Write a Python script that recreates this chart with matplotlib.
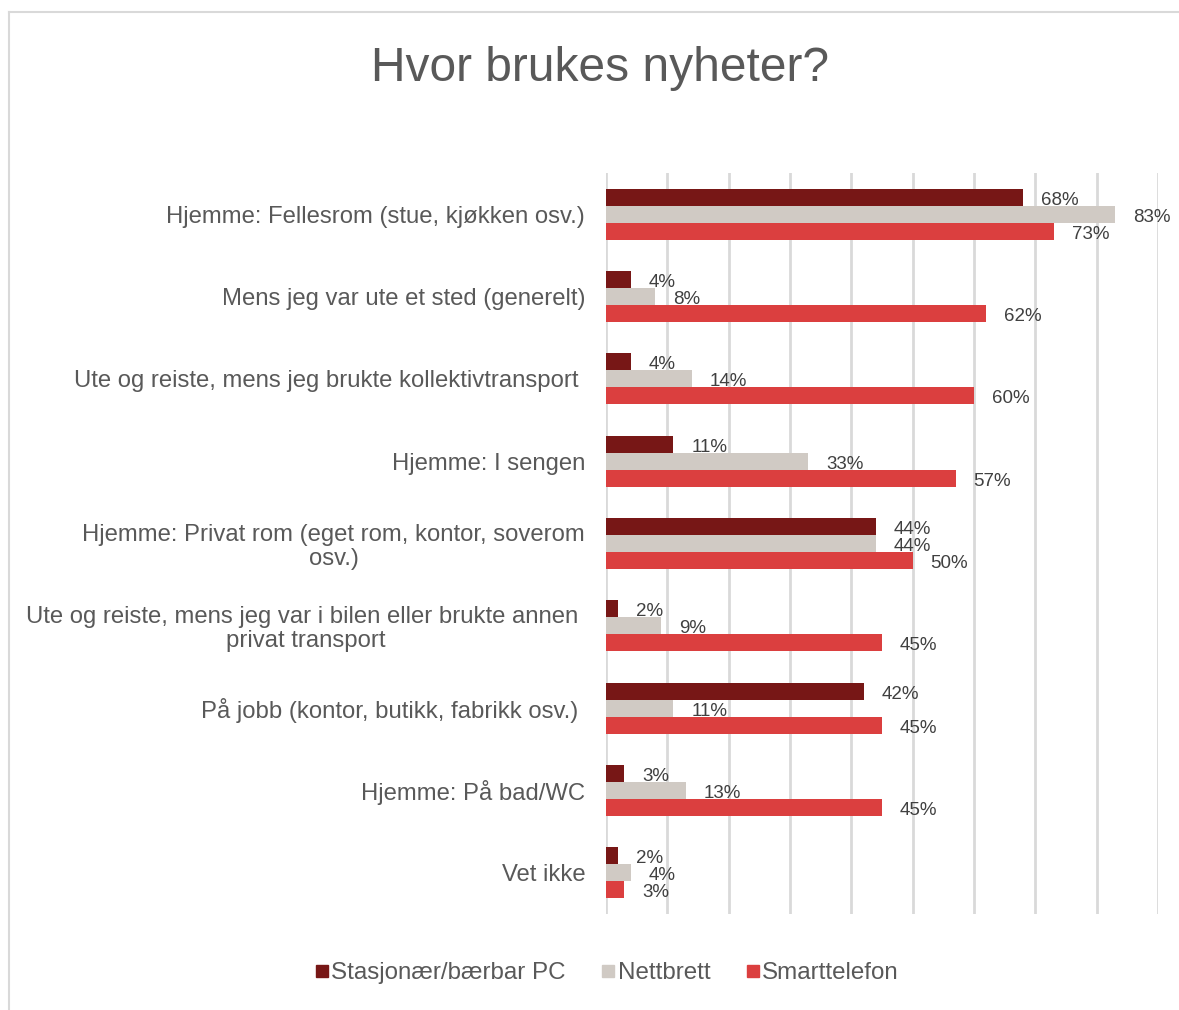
import matplotlib
matplotlib.use("Agg")
import matplotlib.pyplot as plt
import numpy as np
from matplotlib.lines import Line2D

categories = [
    "Hjemme: Fellesrom (stue, kjøkken osv.)",
    "Mens jeg var ute et sted (generelt)",
    "Ute og reiste, mens jeg brukte kollektivtransport ",
    "Hjemme: I sengen",
    "Hjemme: Privat rom (eget rom, kontor, soverom\nosv.)",
    "Ute og reiste, mens jeg var i bilen eller brukte annen \nprivat transport",
    "På jobb (kontor, butikk, fabrikk osv.) ",
    "Hjemme: På bad/WC",
    "Vet ikke",
]
series_names = ["Stasjonær/bærbar PC", "Nettbrett", "Smarttelefon"]
pc = [68, 4, 4, 11, 44, 2, 42, 3, 2]
tablet = [83, 8, 14, 33, 44, 9, 11, 13, 4]
phone = [73, 62, 60, 57, 50, 45, 45, 45, 3]
colors = ["#771716", "#d0cac4", "#db3f3f"]

plt.rcParams['font.family'] = ['Liberation Sans', 'DejaVu Sans']
text_color = "#595959"

fig = plt.figure(figsize=(11.79, 10.10), dpi=100)
ax = fig.add_axes([606/1179, 1-914/1010, (1158-606)/1179, (914-173)/1010])

n = len(categories)
y = np.arange(n)
h = 0.207
for i, (vals, col) in enumerate(zip([pc, tablet, phone], colors)):
    ypos = y + (i - 1) * h
    ax.barh(ypos, vals, height=h, color=col, zorder=3, label=series_names[i])
    for yy, v in zip(ypos, vals):
        ax.text(v + 2.9, yy + 0.035, f"{v}%", va="center", ha="left", fontsize=13.5,
                color="#404040", zorder=4)

ax.set_xlim(0, 90)
ax.set_ylim(n - 0.5, -0.5)
ax.set_xticks(np.arange(0, 91, 10))
ax.grid(axis="x", color="#d9d9d9", linewidth=2, zorder=0)
ax.set_xticklabels([])
ax.tick_params(axis="both", length=0)
ax.set_yticks(y)
ax.set_yticklabels(categories, fontsize=17.2, color=text_color, multialignment="center",
                   linespacing=1.1)
ax.tick_params(axis="y", pad=15)
for s in ax.spines.values():
    s.set_visible(False)

fig.text(600/1179, 1 - 68/1010, "Hvor brukes nyheter?", ha="center", va="center",
         fontsize=34.5, color=text_color)

handles = [Line2D([0], [0], marker="s", linestyle="none", markersize=8.8,
                  markerfacecolor=c, markeredgecolor=c) for c in colors]
fig.legend(handles, series_names, loc="center", bbox_to_anchor=(606/1179, 1 - 973/1010),
           ncol=3, frameon=False, fontsize=17.4, labelcolor=text_color,
           handletextpad=0.05, columnspacing=1.4, handlelength=0.7)

# outer border (top and left)
fig.add_artist(Line2D([9/1179, 1], [1 - 12/1010, 1 - 12/1010], color="#d9d9d9", lw=1.5,
                      transform=fig.transFigure))
fig.add_artist(Line2D([9/1179, 9/1179], [0, 1 - 12/1010], color="#d9d9d9", lw=1.5,
                      transform=fig.transFigure))

fig.savefig("out.png", dpi=100)
